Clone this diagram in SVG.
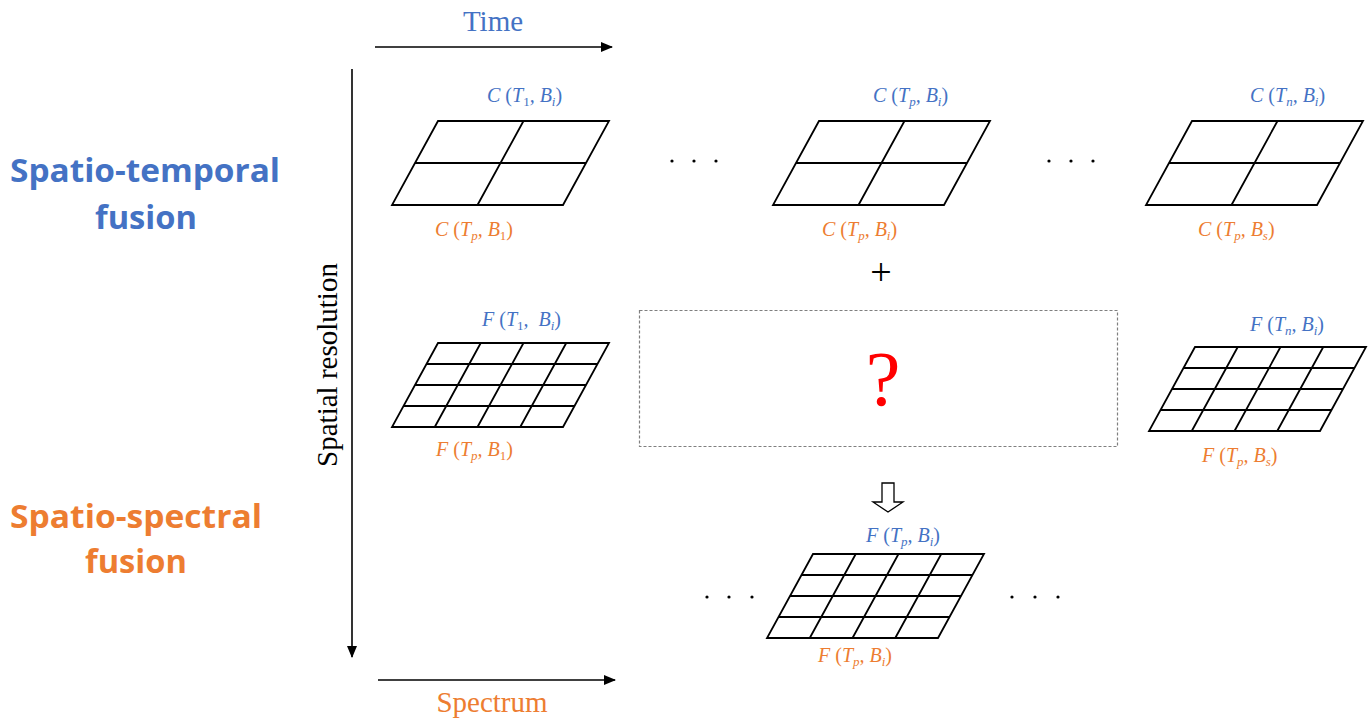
<svg xmlns="http://www.w3.org/2000/svg" xmlns:xlink="http://www.w3.org/1999/xlink" width="1371" height="721" viewBox="0 0 1371 721">
<style>
.lb{font-family:"Liberation Serif","Times New Roman",serif;font-size:20px;font-style:italic}
.u{font-style:normal}
.sub{font-size:13px}
.blue{fill:#4472C4}
.orange{fill:#ED7D31}
.axis{font-family:"Liberation Serif","Times New Roman",serif;font-size:29px}
.big{font-family:"Open Sans","Liberation Sans",sans-serif;font-size:33px;font-weight:bold}
.grid{fill:none;stroke:#000;stroke-width:1.8;stroke-linejoin:miter}
.ax{stroke:#000;stroke-width:1.6;fill:none}
.dot{fill:#000}
</style>
<defs>
<marker id="ah" markerWidth="12" markerHeight="10" refX="11" refY="5" orient="auto" markerUnits="userSpaceOnUse">
<path d="M0,0 L12,5 L0,10 Z" fill="#000"/>
</marker>
<path id="coarse" class="grid" d="M0,0 H171 L125,84 H-46 Z M-23,42 H148 M85.5,0 L39.5,84"/>
<path id="fine" class="grid" d="M0,0 H171 L125,84 H-46 Z M-11.5,21 H159.5 M-23,42 H148 M-34.5,63 H136.5 M42.75,0 L-3.25,84 M85.5,0 L39.5,84 M128.25,0 L82.25,84"/>
</defs>
<rect width="1371" height="721" fill="#fff"/>

<g id="connectors">
<line class="ax" x1="375" y1="47" x2="612" y2="47" marker-end="url(#ah)"/>
<line class="ax" x1="352" y1="69" x2="352" y2="657" marker-end="url(#ah)"/>
<line class="ax" x1="378" y1="680" x2="615" y2="680" marker-end="url(#ah)"/>
<polygon points="882,483 894,483 894,502 903,502 888,512 873,502 882,502" fill="#fff" stroke="#000" stroke-width="1.3"/>
</g>

<g id="axis-labels">
<text class="axis blue" x="493" y="31" text-anchor="middle">Time</text>
<text class="axis orange" x="492" y="712" text-anchor="middle">Spectrum</text>
<text class="axis" transform="translate(337,365) rotate(-90)" text-anchor="middle" fill="#000">Spatial resolution</text>
</g>

<g id="left-labels">
<text class="big blue" x="10" y="182" textLength="270" lengthAdjust="spacingAndGlyphs">Spatio-temporal</text>
<text class="big blue" x="95" y="229" textLength="102" lengthAdjust="spacingAndGlyphs">fusion</text>
<text class="big orange" x="10" y="528" textLength="252" lengthAdjust="spacingAndGlyphs">Spatio-spectral</text>
<text class="big orange" x="85" y="573" textLength="102" lengthAdjust="spacingAndGlyphs">fusion</text>
</g>

<g id="coarse-1">
<use xlink:href="#coarse" x="438" y="121"/>
<text class="lb blue" x="487" y="102">C <tspan class="u">(</tspan>T<tspan class="sub u" dy="4">1</tspan><tspan dy="-4">, B</tspan><tspan class="sub" dy="4">i</tspan><tspan class="u" dy="-4">)</tspan></text>
<text class="lb orange" x="435" y="236">C <tspan class="u">(</tspan>T<tspan class="sub" dy="4">p</tspan><tspan dy="-4">, B</tspan><tspan class="sub u" dy="4">1</tspan><tspan class="u" dy="-4">)</tspan></text>
</g>

<g id="coarse-p">
<use xlink:href="#coarse" x="819" y="121"/>
<text class="lb blue" x="873" y="102">C <tspan class="u">(</tspan>T<tspan class="sub" dy="4">p</tspan><tspan dy="-4">, B</tspan><tspan class="sub" dy="4">i</tspan><tspan class="u" dy="-4">)</tspan></text>
<text class="lb orange" x="822" y="236">C <tspan class="u">(</tspan>T<tspan class="sub" dy="4">p</tspan><tspan dy="-4">, B</tspan><tspan class="sub" dy="4">i</tspan><tspan class="u" dy="-4">)</tspan></text>
</g>

<g id="coarse-n">
<use xlink:href="#coarse" x="1192" y="121"/>
<text class="lb blue" x="1250" y="102">C <tspan class="u">(</tspan>T<tspan class="sub" dy="4">n</tspan><tspan dy="-4">, B</tspan><tspan class="sub" dy="4">i</tspan><tspan class="u" dy="-4">)</tspan></text>
<text class="lb orange" x="1198" y="236">C <tspan class="u">(</tspan>T<tspan class="sub" dy="4">p</tspan><tspan dy="-4">, B</tspan><tspan class="sub" dy="4">s</tspan><tspan class="u" dy="-4">)</tspan></text>
</g>

<g id="dots-top">
<circle class="dot" cx="672" cy="161" r="1.6"/><circle class="dot" cx="694" cy="161" r="1.6"/><circle class="dot" cx="716" cy="161" r="1.6"/>
<circle class="dot" cx="1049" cy="161" r="1.6"/><circle class="dot" cx="1071" cy="161" r="1.6"/><circle class="dot" cx="1093" cy="161" r="1.6"/>
</g>

<g id="plus">
<text x="881" y="285" text-anchor="middle" font-family="Liberation Serif, serif" font-size="38" fill="#000">+</text>
</g>

<g id="fine-1">
<use xlink:href="#fine" x="438" y="343"/>
<text class="lb blue" x="482" y="326">F <tspan class="u">(</tspan>T<tspan class="sub u" dy="4">1</tspan><tspan dy="-4">,&#160; B</tspan><tspan class="sub" dy="4">i</tspan><tspan class="u" dy="-4">)</tspan></text>
<text class="lb orange" x="436" y="456">F <tspan class="u">(</tspan>T<tspan class="sub" dy="4">p</tspan><tspan dy="-4">, B</tspan><tspan class="sub u" dy="4">1</tspan><tspan class="u" dy="-4">)</tspan></text>
</g>

<g id="unknown">
<rect x="639.5" y="310.5" width="478" height="136" fill="none" stroke="#7f7f7f" stroke-width="1.2" stroke-dasharray="3,2"/>
<text x="883" y="405" text-anchor="middle" font-family="Liberation Serif, serif" font-size="78" fill="#FF0000">?</text>
</g>

<g id="fine-n">
<use xlink:href="#fine" x="1195" y="347"/>
<text class="lb blue" x="1250" y="331">F <tspan class="u">(</tspan>T<tspan class="sub" dy="4">n</tspan><tspan dy="-4">, B</tspan><tspan class="sub" dy="4">i</tspan><tspan class="u" dy="-4">)</tspan></text>
<text class="lb orange" x="1202" y="462">F <tspan class="u">(</tspan>T<tspan class="sub" dy="4">p</tspan><tspan dy="-4">, B</tspan><tspan class="sub" dy="4">s</tspan><tspan class="u" dy="-4">)</tspan></text>
</g>

<g id="fine-p">
<use xlink:href="#fine" x="813" y="554"/>
<text class="lb blue" x="866" y="542">F <tspan class="u">(</tspan>T<tspan class="sub" dy="4">p</tspan><tspan dy="-4">, B</tspan><tspan class="sub" dy="4">i</tspan><tspan class="u" dy="-4">)</tspan></text>
<text class="lb orange" x="818" y="662">F <tspan class="u">(</tspan>T<tspan class="sub" dy="4">p</tspan><tspan dy="-4">, B</tspan><tspan class="sub" dy="4">i</tspan><tspan class="u" dy="-4">)</tspan></text>
</g>

<g id="dots-bottom">
<circle class="dot" cx="707" cy="597" r="1.6"/><circle class="dot" cx="729" cy="597" r="1.6"/><circle class="dot" cx="752" cy="597" r="1.6"/>
<circle class="dot" cx="1012" cy="597" r="1.6"/><circle class="dot" cx="1035" cy="597" r="1.6"/><circle class="dot" cx="1058" cy="597" r="1.6"/>
</g>
</svg>
